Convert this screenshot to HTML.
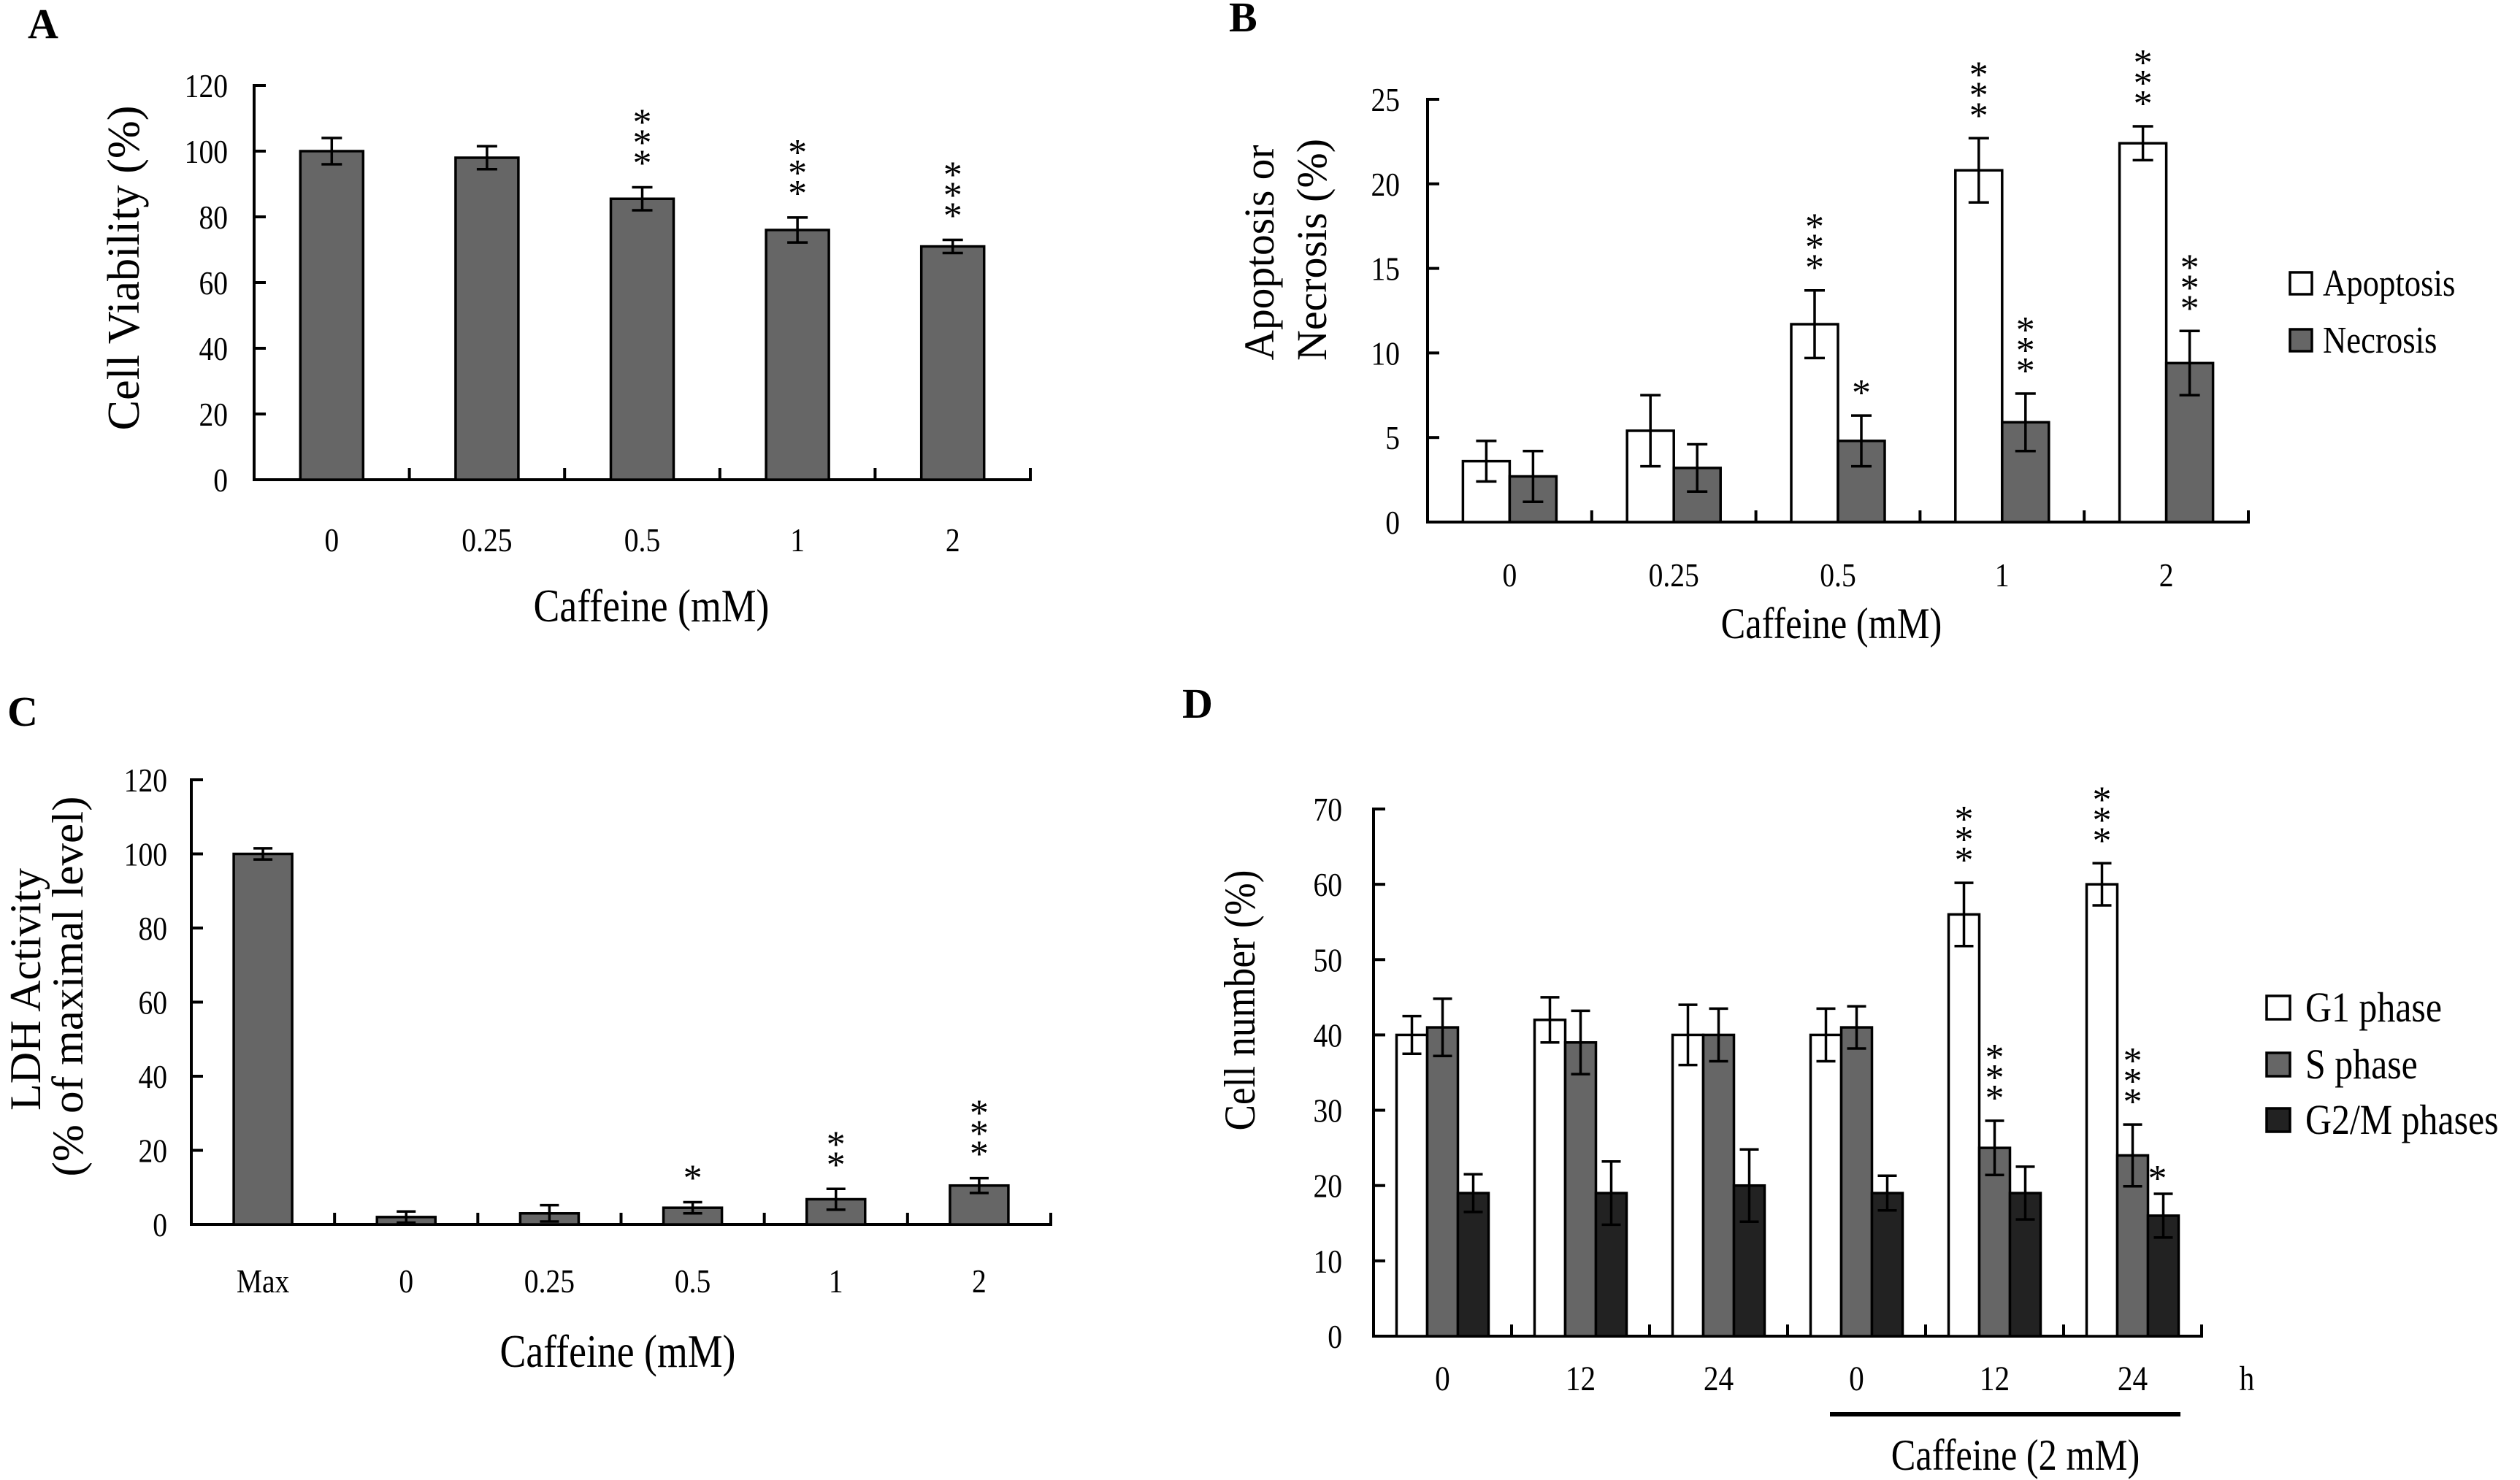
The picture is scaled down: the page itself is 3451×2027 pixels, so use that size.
<!DOCTYPE html>
<html><head><meta charset="utf-8"><style>
html,body{margin:0;padding:0;background:#fff;}
svg{display:block;}
text{font-family:"Liberation Serif",serif;fill:#000;}
</style></head><body>
<svg id="fig" xmlns="http://www.w3.org/2000/svg" width="3451" height="2027" viewBox="0 0 3451 2027"></svg>
<script>
// Panel A data
const catsA = ["0","0.25","0.5","1","2"];
const valsA = [100,98,85.5,76,71];
const errA = [4,3.5,3.5,3.8,2];
const starsA = [0,0,3,3,3];
const ticksA = [0,20,40,60,80,100,120];
// Panel B data
const catsB = ["0","0.25","0.5","1","2"];
const apopB = [3.6,5.4,11.7,20.8,22.4];
const apopErrB = [1.2,2.1,2.0,1.9,1.0];
const necB = [2.7,3.2,4.8,5.9,9.4];
const necErrB = [1.5,1.4,1.5,1.7,1.9];
const apopStarsB = [0,0,3,3,3];
const necStarsB = [0,0,1,3,3];
const ticksB = [0,5,10,15,20,25];
// Panel C data
const catsC = ["Max","0","0.25","0.5","1","2"];
const valsC = [100,2,3,4.5,6.8,10.5];
const errC = [1.5,1.5,2.2,1.5,2.8,2];
const starsC = [0,0,0,1,2,3];
const ticksC = [0,20,40,60,80,100,120];
// Panel D data
const catsD = ["0","12","24","0","12","24"];
const g1D = [40,42,40,40,56,60];
const g1ErrD = [2.5,3,4,3.5,4.2,2.8];
const sD = [41,39,40,41,25,24];
const sErrD = [3.8,4.2,3.5,2.8,3.6,4.1];
const g2mD = [19,19,20,19,19,16];
const g2mErrD = [2.5,4.2,4.8,2.3,3.5,2.9];
const g1StarsD = [0,0,0,0,3,3];
const sStarsD = [0,0,0,0,3,3];
const g2mStarsD = [0,0,0,0,0,1];
const ticksD = [0,10,20,30,40,50,60,70];

const svg = document.getElementById('fig');
const NS = 'http://www.w3.org/2000/svg';
function mk(tag, attrs, parent){
  const e = document.createElementNS(NS, tag);
  for (const k in attrs) e.setAttribute(k, attrs[k]);
  (parent||svg).appendChild(e);
  return e;
}
function txt(x,y,s,size,anchor,parent,sx){
  const t = mk('text',{x:0,y:0,'font-size':size,'text-anchor':anchor||'middle',
    transform:'translate('+x+','+y+') scale('+(sx||0.86)+',1)'},parent);
  t.textContent = s;
  return t;
}
function rtxt(x,y,s,size,len,parent){
  const t = mk('text',{x:0,y:0,'font-size':size,'text-anchor':'middle',
    transform:'translate('+x+','+y+') rotate(-90)',textLength:len,lengthAdjust:'spacingAndGlyphs'},parent);
  t.textContent = s;
  return t;
}
function line(x1,y1,x2,y2,w,parent){
  return mk('line',{x1:x1,y1:y1,x2:x2,y2:y2,stroke:'#000','stroke-width':w||4},parent);
}

function axes(g, x0, x1, y0, yTop, n, ticks, yf, gap){
  const ya = line(x0, yTop-2, x0, y0+2, 4, g);
  
  
  const xa = line(x0-2, y0, x1+2, y0, 4, g);
  
  
  ticks.forEach(v=>{
    const y = yf(v);
    line(x0, y, x0+16, y, 4, g);
    const t = txt(x0-gap, y+16, String(v), 46, 'end', g);
    
    
  });
  const cw = (x1-x0)/n;
  for (let i=1;i<=n;i++){ line(x0+i*cw, y0, x0+i*cw, y0-16, 4, g); }
  return cw;
}
function bar(g, xl, w, v, e, fill, yf, y0, cap){
  const y = yf(v);
  const r = mk('rect',{x:xl,y:y,width:w,height:y0-y,fill:fill,stroke:'#000','stroke-width':3.5},g);
  
  
  const cx = xl+w/2, yt = yf(v+e), yb = yf(v-e);
  const eb = mk('g',{},g);
  
  
  line(cx, yt, cx, yb, 3.5, eb);
  line(cx-cap/2, yt, cx+cap/2, yt, 3.5, eb);
  line(cx-cap/2, yb, cx+cap/2, yb, 3.5, eb);
  return {cx:cx, top:yt};
}
function stars(g, cx, top, n, size, gap){
  for (let k=0;k<n;k++){
    const cy = top - (gap||40) - k*28;
    const t = txt(cx, cy+24, '*', size||52, 'middle', g, 1);
    
    
  }
}
function panelLabel(x,y,s){
  const t = mk('text',{x:x,y:y,'font-size':58,'font-weight':'bold'});
  t.textContent = s;
  
  
}

// ---------- Panel A ----------
(function(){
  const g = mk('g',{});
  
  
  const y0=657, yTop=117, x0=348, x1=1411;
  const yf = v => y0 - v*(y0-yTop)/120;
  const cw = axes(g,x0,x1,y0,yTop,catsA.length,ticksA,yf,36);
  catsA.forEach((c,i)=>{
    const cx = x0+(i+0.5)*cw;
    const b = bar(g, cx-43, 86, valsA[i], errA[i], '#666', yf, y0, 28);
    stars(g, b.cx, b.top, starsA[i]);
    const t = txt(cx, 755, c, 46, 'middle', g);
    
    
  });
  const xt = txt(892, 851, 'Caffeine (mM)', 64, 'middle', g, 0.84);
  
  
  const yt = rtxt(190, 367, 'Cell Viability (%)', 62, 445, g);
  
  
})();
panelLabel(38,52,'A');

// ---------- Panel B ----------
(function(){
  const g = mk('g',{});
  
  
  const y0=715, yTop=136, x0=1955, x1=3079;
  const yf = v => y0 - v*(y0-yTop)/25;
  const cw = axes(g,x0,x1,y0,yTop,catsB.length,ticksB,yf,38);
  catsB.forEach((c,i)=>{
    const cx = x0+(i+0.5)*cw;
    const a = bar(g, cx-64, 64, apopB[i], apopErrB[i], '#fff', yf, y0, 28);
    stars(g, a.cx, a.top, apopStarsB[i], 52, 38);
    const n = bar(g, cx, 64, necB[i], necErrB[i], '#666', yf, y0, 28);
    stars(g, n.cx, n.top, necStarsB[i], 52, 38);
    const t = txt(cx, 803, c, 46, 'middle', g);
    
    
  });
  const xt = txt(2508, 874, 'Caffeine (mM)', 60, 'middle', g, 0.84);
  
  
  const yt1 = rtxt(1744, 346, 'Apoptosis or', 58, 295, g);
  
  
  const yt2 = rtxt(1816, 342, 'Necrosis (%)', 58, 304, g);
  
  
  const lg = mk('g',{},g);
  
  
  [['Apoptosis','#fff',388],['Necrosis','#666',466]].forEach(it=>{
    const e = mk('g',{},lg);
    
    
    mk('rect',{x:3136,y:it[2]-15,width:30,height:30,fill:it[1],stroke:'#000','stroke-width':3.5},e);
    txt(3181, it[2]+17, it[0], 52, 'start', e, 0.86);
  });
})();
panelLabel(1683,43,'B');

// ---------- Panel C ----------
(function(){
  const g = mk('g',{});
  
  
  const y0=1677, yTop=1068, x0=262, x1=1439;
  const yf = v => y0 - v*(y0-yTop)/120;
  const cw = axes(g,x0,x1,y0,yTop,catsC.length,ticksC,yf,33);
  catsC.forEach((c,i)=>{
    const cx = x0+(i+0.5)*cw;
    const b = bar(g, cx-40, 80, valsC[i], errC[i], '#666', yf, y0, 26);
    stars(g, b.cx, b.top, starsC[i]);
    const t = txt(cx, 1770, c, 46, 'middle', g);
    
    
  });
  const xt = txt(846, 1872, 'Caffeine (mM)', 64, 'middle', g, 0.84);
  
  
  const yt1 = rtxt(55, 1355, 'LDH Activity', 60, 332, g);
  
  
  const yt2 = rtxt(113, 1351, '(% of maximal level)', 60, 521, g);
  
  
})();
panelLabel(10,994,'C');

// ---------- Panel D ----------
(function(){
  const g = mk('g',{});
  
  
  const y0=1830, yTop=1108, x0=1881, x1=3015;
  const yf = v => y0 - v*(y0-yTop)/70;
  const cw = axes(g,x0,x1,y0,yTop,catsD.length,ticksD,yf,43);
  catsD.forEach((c,i)=>{
    const cx = x0+(i+0.5)*cw;
    const a = bar(g, cx-63, 42, g1D[i], g1ErrD[i], '#fff', yf, y0, 26);
    stars(g, a.cx, a.top, g1StarsD[i], 52, 38);
    const s = bar(g, cx-21, 42, sD[i], sErrD[i], '#666', yf, y0, 26);
    stars(g, s.cx, s.top, sStarsD[i], 52, 38);
    const m = bar(g, cx+21, 42, g2mD[i], g2mErrD[i], '#222', yf, y0, 26);
    stars(g, m.cx-8, m.top+10, g2mStarsD[i], 52, 38);
    const t = txt(cx, 1904, c, 48, 'middle', g);
    
    
  });
  const h = txt(3077, 1904, 'h', 48, 'middle', g);
  
  
  const br = line(2506, 1937, 2986, 1937, 6, g);
  
  
  const xt = txt(2760, 2013, 'Caffeine (2 mM)', 60, 'middle', g, 0.84);
  
  
  const yt = rtxt(1718, 1370, 'Cell number (%)', 60, 357, g);
  
  
  const lg = mk('g',{},g);
  
  
  [['G1 phase','#fff',1380],['S phase','#666',1458],['G2/M phases','#222',1534]].forEach(it=>{
    const e = mk('g',{},lg);
    
    
    mk('rect',{x:3104,y:it[2]-16,width:32,height:32,fill:it[1],stroke:'#000','stroke-width':3.5},e);
    txt(3157, it[2]+19, it[0], 58, 'start', e, 0.86);
  });
})();
panelLabel(1619,983,'D');
</script>
</body></html>
